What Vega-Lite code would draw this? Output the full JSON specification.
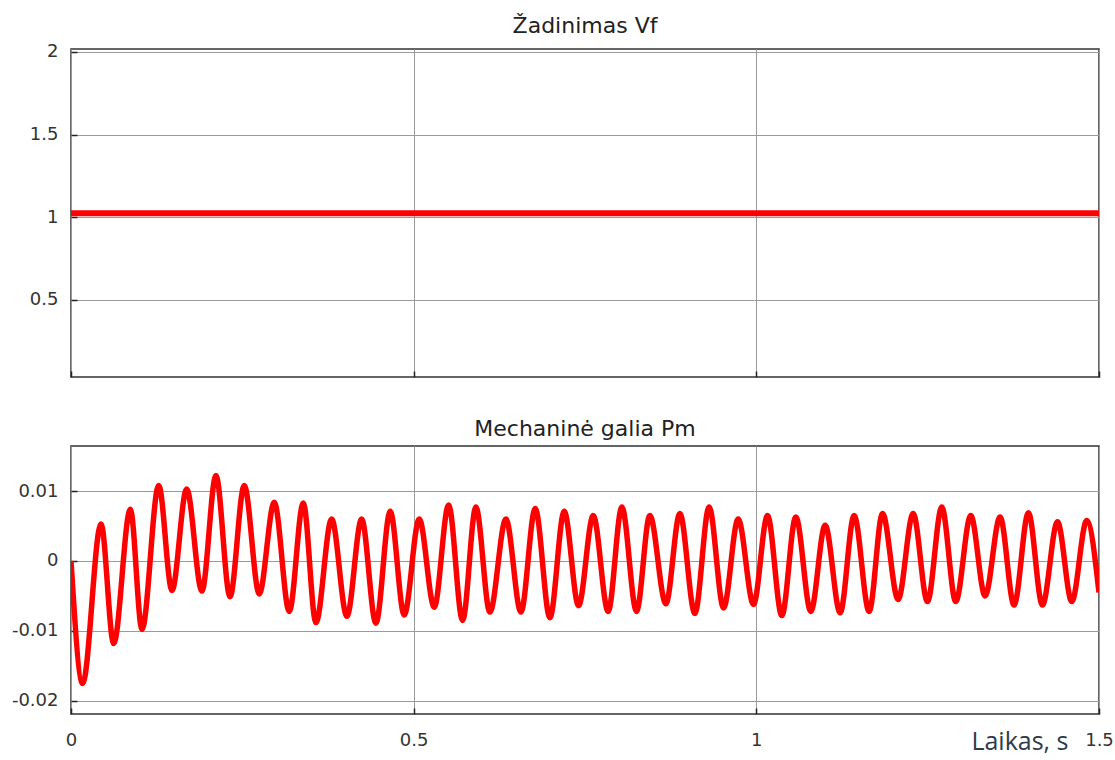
{
  "$schema": "https://vega.github.io/schema/vega-lite/v6.json",
  "autosize": {"type": "pad"},
  "padding": {"left": 0, "top": 14, "right": 5, "bottom": 0},
  "spacing": 38,
  "config": {
    "font": "DejaVu Sans",
    "view": {"stroke": "#333333", "strokeWidth": 1.5},
    "axis": {
      "gridColor": "#9a9a9a",
      "gridWidth": 1,
      "gridOpacity": 1,
      "domain": false,
      "tickColor": "#222222",
      "tickSize": -6,
      "tickWidth": 1.5,
      "labelFont": "DejaVu Sans",
      "labelFontSize": 18,
      "labelColor": "#333333",
      "labelExpr": "toString(datum.value)"
    },
    "title": {"font": "DejaVu Sans", "fontSize": 22, "fontWeight": "normal", "color": "#222222", "offset": 5}
  },
  "datasets": {
    "vf": [
      {"t": 0, "v": 1.024},
      {"t": 1.5, "v": 1.024}
    ],
    "pm": [
      {"t": 0, "v": 0},
      {"t": 0.017, "v": -0.0175},
      {"t": 0.0438, "v": 0.0053},
      {"t": 0.0623, "v": -0.0118},
      {"t": 0.0866, "v": 0.0074},
      {"t": 0.1036, "v": -0.0098},
      {"t": 0.128, "v": 0.0108},
      {"t": 0.1473, "v": -0.0042},
      {"t": 0.1688, "v": 0.0103},
      {"t": 0.191, "v": -0.0043},
      {"t": 0.2115, "v": 0.0122},
      {"t": 0.232, "v": -0.0051},
      {"t": 0.2528, "v": 0.0108},
      {"t": 0.2747, "v": -0.0047},
      {"t": 0.2966, "v": 0.0084},
      {"t": 0.3185, "v": -0.0072},
      {"t": 0.3389, "v": 0.0083},
      {"t": 0.3574, "v": -0.0088},
      {"t": 0.3803, "v": 0.006},
      {"t": 0.4026, "v": -0.0079},
      {"t": 0.4241, "v": 0.006},
      {"t": 0.4449, "v": -0.0089},
      {"t": 0.4658, "v": 0.0071},
      {"t": 0.4862, "v": -0.0077},
      {"t": 0.5081, "v": 0.006},
      {"t": 0.53, "v": -0.0066},
      {"t": 0.551, "v": 0.008},
      {"t": 0.5714, "v": -0.0085},
      {"t": 0.5908, "v": 0.0077},
      {"t": 0.6112, "v": -0.0073},
      {"t": 0.6346, "v": 0.006},
      {"t": 0.6565, "v": -0.0073},
      {"t": 0.6774, "v": 0.0075},
      {"t": 0.6988, "v": -0.0081},
      {"t": 0.7197, "v": 0.0071},
      {"t": 0.7406, "v": -0.0064},
      {"t": 0.762, "v": 0.0065},
      {"t": 0.7838, "v": -0.0072},
      {"t": 0.8038, "v": 0.0077},
      {"t": 0.8252, "v": -0.0072},
      {"t": 0.8446, "v": 0.0065},
      {"t": 0.868, "v": -0.0061},
      {"t": 0.8884, "v": 0.0068},
      {"t": 0.9103, "v": -0.0075},
      {"t": 0.9311, "v": 0.0077},
      {"t": 0.9522, "v": -0.0067},
      {"t": 0.9735, "v": 0.006},
      {"t": 0.9959, "v": -0.0062},
      {"t": 1.0163, "v": 0.0065},
      {"t": 1.0372, "v": -0.0078},
      {"t": 1.0576, "v": 0.0063},
      {"t": 1.0795, "v": -0.0072},
      {"t": 1.1004, "v": 0.0051},
      {"t": 1.1223, "v": -0.0074},
      {"t": 1.1427, "v": 0.0065},
      {"t": 1.1646, "v": -0.0072},
      {"t": 1.1841, "v": 0.0068},
      {"t": 1.2069, "v": -0.0055},
      {"t": 1.2288, "v": 0.0068},
      {"t": 1.2497, "v": -0.0058},
      {"t": 1.2706, "v": 0.0077},
      {"t": 1.291, "v": -0.0058},
      {"t": 1.3129, "v": 0.0065},
      {"t": 1.3338, "v": -0.005},
      {"t": 1.3557, "v": 0.0063},
      {"t": 1.3761, "v": -0.0063},
      {"t": 1.397, "v": 0.0069},
      {"t": 1.4174, "v": -0.0063},
      {"t": 1.4394, "v": 0.0056},
      {"t": 1.4603, "v": -0.0058},
      {"t": 1.4821, "v": 0.0058},
      {"t": 1.5, "v": -0.0045}
    ]
  },
  "vconcat": [
    {
      "title": "Žadinimas Vf",
      "width": 1028,
      "height": 328,
      "data": {"name": "vf"},
      "mark": {"type": "line", "color": "#ff0000", "strokeWidth": 6, "clip": true},
      "encoding": {
        "x": {
          "field": "t", "type": "quantitative",
          "scale": {"domain": [0, 1.5], "nice": false, "zero": false},
          "axis": {"title": null, "labels": false, "values": [0, 0.5, 1, 1.5]}
        },
        "y": {
          "field": "v", "type": "quantitative",
          "scale": {"domain": [0.032, 2.018], "nice": false, "zero": false},
          "axis": {"title": null, "values": [0.5, 1, 1.5, 2], "labelPadding": 19, "minExtent": 70, "maxExtent": 70}
        }
      }
    },
    {
      "title": "Mechaninė galia Pm",
      "width": 1028,
      "height": 268,
      "data": {"name": "pm"},
      "mark": {"type": "line", "color": "#ff0000", "strokeWidth": 5.5, "interpolate": "monotone", "clip": true},
      "encoding": {
        "x": {
          "field": "t", "type": "quantitative",
          "scale": {"domain": [0, 1.5], "nice": false, "zero": false},
          "axis": {
            "title": "Laikas, s",
            "values": [0, 0.5, 1, 1.5],
            "labelFlush": false,
            "labelOverlap": false,
            "labelPadding": 23,
            "titleFont": "Open Sans",
            "titleFontSize": 25,
            "titleFontWeight": "normal",
            "titleColor": "#2f3a4a",
            "titleAlign": "right",
            "titleBaseline": "alphabetic",
            "titleX": 997,
            "titleY": 35
          }
        },
        "y": {
          "field": "v", "type": "quantitative",
          "scale": {"domain": [-0.02186, 0.01643], "nice": false, "zero": false},
          "axis": {"title": null, "values": [-0.02, -0.01, 0, 0.01], "labelPadding": 19, "minExtent": 70, "maxExtent": 70}
        }
      }
    }
  ]
}
